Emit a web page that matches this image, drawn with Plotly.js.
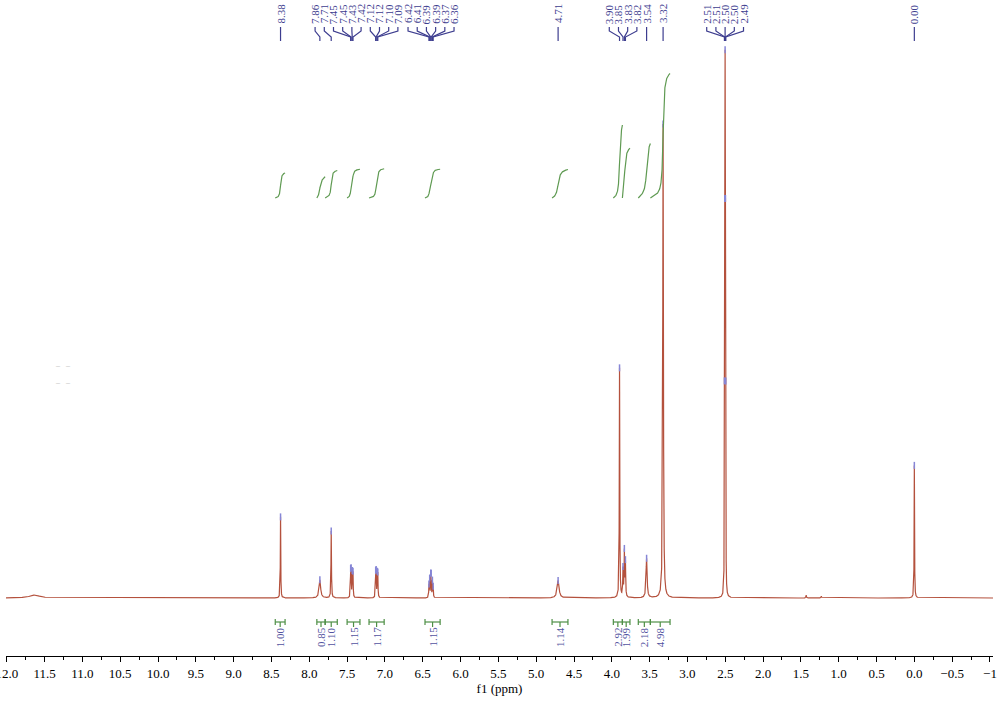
<!DOCTYPE html>
<html><head><meta charset="utf-8">
<script src="https://cdn.plot.ly/plotly-3.0.1.min.js"></script>
<style>html,body{margin:0;padding:0;background:#fff}#chart{width:1002px;height:701px}</style>
</head><body><div id="chart"></div>
<script>
// ---- spectrum peaks (ppm, relative height %, half-width ppm) ----
const peakPpm    = [11.63, 8.380, 7.860, 7.710, 7.453, 7.447, 7.432, 7.422, 7.122, 7.116, 7.102, 7.094,
                    6.418, 6.408, 6.394, 6.388, 6.372, 6.362, 4.710, 3.898, 3.852, 3.834, 3.820, 3.540, 3.322,
                    2.511, 2.5065, 2.502, 2.4975, 2.493, 1.430, 1.230, 0.000];
const peakHeight = [0.55, 14.8, 3.3, 12.2, 4.4, 4.4, 4.4, 4.4, 4.1, 4.1, 4.1, 4.1,
                    2.2, 3.2, 3.6, 3.6, 2.9, 1.8, 3.2, 41.9, 5.0, 8.2, 6.2, 7.2, 86.5,
                    27.6, 55.1, 82.7, 55.1, 27.6, 0.5, 0.35, 24.2];
const peakWidth  = [0.08, 0.003, 0.012, 0.0035, 0.003, 0.003, 0.003, 0.003, 0.003, 0.003, 0.003, 0.003,
                    0.003, 0.003, 0.003, 0.003, 0.003, 0.003, 0.015, 0.0035, 0.004, 0.004, 0.004, 0.008, 0.005,
                    0.0018, 0.0018, 0.0018, 0.0018, 0.0018, 0.004, 0.004, 0.003];
// ---- peak picking ----
const pickPpm = [8.380, 7.860, 7.710, 7.453, 7.447, 7.432, 7.422, 7.122, 7.116, 7.102, 7.094,
                 6.418, 6.408, 6.394, 6.388, 6.372, 6.362, 4.710, 3.898, 3.852, 3.834, 3.820, 3.540, 3.322,
                 2.511, 2.5065, 2.502, 2.4975, 2.493, 0.000];
// ---- integrations ----
const intStart = [8.45, 7.90, 7.79, 7.50, 7.21, 6.47, 4.79, 3.98, 3.86, 3.65, 3.49];
const intEnd   = [8.32, 7.79, 7.63, 7.33, 7.01, 6.27, 4.58, 3.86, 3.76, 3.49, 3.23];
const intValue = [1.00, 0.85, 1.10, 1.15, 1.17, 1.15, 1.14, 2.92, 1.99, 2.18, 4.98];
// ---- axis ticks ----
const tickVals = [12.0, 11.5, 11.0, 10.5, 10.0, 9.5, 9.0, 8.5, 8.0, 7.5, 7.0, 6.5, 6.0, 5.5, 5.0,
                  4.5, 4.0, 3.5, 3.0, 2.5, 2.0, 1.5, 1.0, 0.5, 0.0, -0.5, -1.0];
const tickText = ["12.0","11.5","11.0","10.5","10.0","9.5","9.0","8.5","8.0","7.5","7.0","6.5","6.0","5.5","5.0",
                  "4.5","4.0","3.5","3.0","2.5","2.0","1.5","1.0","0.5","0.0","\u22120.5","\u22121"];

const X0 = 12.01, X1 = -1.04;
const W = 1002, H = 701, ML = 6, MR = 9, MT = 0, MB = 45;
const plotW = W - ML - MR, plotH = H - MT - MB;
const pxPerPpm = plotW / (X0 - X1);
const py = px => 1 - (px - MT) / plotH;   // pixel row -> paper y

function spec(x, extra) {
  let s = 0;
  for (let i = 0; i < peakPpm.length; i++) {
    const w = peakWidth[i] + (extra || 0);
    const d = (x - peakPpm[i]) / w;
    s += peakHeight[i] / (1 + d * d);
  }
  return s;
}

// sampling grid
let xs = [];
for (let x = X1; x <= X0; x += 0.002) xs.push(+x.toFixed(4));
peakPpm.forEach((p, i) => {
  const w = peakWidth[i];
  const span = Math.max(0.012, w * 15), step = Math.max(0.0002, w / 10);
  for (let d = -span; d <= span; d += step) xs.push(+(p + d).toFixed(5));
  xs.push(p);
});
xs.sort((a, b) => a - b);
xs = xs.filter((v, i) => i === 0 || v !== xs[i - 1]);
const ys = xs.map(x => spec(x));

// integral curves
const ix = [], iy = [];
for (let r = 0; r < intValue.length; r++) {
  const seg = xs.filter(x => x <= intStart[r] && x >= intEnd[r]).sort((a, b) => b - a);
  const v = seg.map(x => spec(x, 0.007));
  const c = [0];
  for (let k = 1; k < seg.length; k++) c.push(c[k - 1] + (v[k] + v[k - 1]) / 2 * (seg[k - 1] - seg[k]));
  const tot = c[c.length - 1];
  seg.forEach((x, k) => { ix.push(x); iy.push(c[k] / tot * intValue[r]); });
  ix.push(null); iy.push(null);
}

const specColor = '#b4513d', intColor = '#5f9a52', labColor = '#3d3d8f';

const traces = [
  { x: xs, y: ys, type: 'scatter', mode: 'lines', line: { color: specColor, width: 1.2 }, hoverinfo: 'skip' },
  { x: pickPpm, y: pickPpm.map(p => spec(p)), type: 'scatter', mode: 'markers',
    marker: { symbol: 'line-ns', size: 5, line: { color: '#8686d6', width: 1.5 } }, hoverinfo: 'skip' },
  { x: ix, y: iy, yaxis: 'y2', type: 'scatter', mode: 'lines', line: { color: intColor, width: 1.2 },
    connectgaps: false, hoverinfo: 'skip' }
];

// label positions for peak picks (spread to avoid overlap)
const sp = 9.2 / pxPerPpm;
const order = pickPpm.map((p, i) => i).sort((a, b) => pickPpm[b] - pickPpm[a]);
let clusters = [];
order.forEach(i => {
  clusters.push({ idx: [i], sum: -pickPpm[i], start: -pickPpm[i] });
  while (clusters.length > 1) {
    const b = clusters[clusters.length - 1], a = clusters[clusters.length - 2];
    if (a.start + a.idx.length * sp > b.start) {
      const m = { idx: a.idx.concat(b.idx), sum: a.sum + b.sum };
      m.start = m.sum / m.idx.length - (m.idx.length - 1) * sp / 2;
      clusters.splice(clusters.length - 2, 2, m);
    } else break;
  }
});
const labPos = [];
clusters.forEach(c => c.idx.forEach((i, k) => { labPos[i] = -(c.start + k * sp); }));

const annotations = [], shapes = [];
pickPpm.forEach((p, i) => {
  annotations.push({ x: labPos[i], y: py(14), xref: 'x', yref: 'paper', text: p.toFixed(2), showarrow: false,
    textangle: -90, xanchor: 'center', yanchor: 'middle',
    font: { family: 'Liberation Serif', size: 11, color: labColor } });
  shapes.push({ type: 'path', xref: 'x', yref: 'paper',
    path: `M ${labPos[i]},${py(27)} L ${labPos[i]},${py(31)} L ${p},${py(37)} L ${p},${py(41)}`,
    line: { color: labColor, width: 1.2 } });
});
intValue.forEach((v, r) => {
  const a = intStart[r], b = intEnd[r], m = (a + b) / 2;
  shapes.push({ type: 'line', xref: 'x', yref: 'paper', x0: a, x1: b, y0: py(622), y1: py(622), line: { color: '#4e8f45', width: 1.2 } });
  shapes.push({ type: 'line', xref: 'x', yref: 'paper', x0: a, x1: a, y0: py(619), y1: py(625), line: { color: '#4e8f45', width: 1.2 } });
  shapes.push({ type: 'line', xref: 'x', yref: 'paper', x0: b, x1: b, y0: py(619), y1: py(625), line: { color: '#4e8f45', width: 1.2 } });
  shapes.push({ type: 'line', xref: 'x', yref: 'paper', x0: m, x1: m, y0: py(622), y1: py(627), line: { color: '#4e8f45', width: 1.2 } });
  annotations.push({ x: m, y: py(637), xref: 'x', yref: 'paper', text: v.toFixed(2), showarrow: false,
    textangle: -90, xanchor: 'center', yanchor: 'middle',
    font: { family: 'Liberation Serif', size: 11, color: '#5252a0' } });
});
// small grey marks at left
[365, 382].forEach(yy => annotations.push({ x: (53 - ML) / plotW, y: py(yy), xref: 'paper', yref: 'paper',
  text: '\u2013&nbsp;&nbsp;&nbsp;\u2013', showarrow: false, font: { family: 'Liberation Serif', size: 8, color: '#b8b8b8' } }));

const baseY = 598; // baseline pixel row
const yPerPx = 100 / 548;
const layout = {
  width: W, height: H, margin: { l: ML, r: MR, t: MT, b: MB },
  paper_bgcolor: '#fff', plot_bgcolor: '#fff', showlegend: false,
  xaxis: { range: [X0, X1], tickmode: 'array', tickvals: tickVals, ticktext: tickText,
    ticks: 'outside', ticklen: 5, tickcolor: '#000', tickwidth: 1, showline: true, linecolor: '#000', linewidth: 1,
    showgrid: false, zeroline: false, ticklabeloverflow: 'allow',
    minor: { tickmode: 'linear', tick0: 0, dtick: 0.25, ticks: 'outside', ticklen: 3, tickcolor: '#000', showgrid: false },
    tickfont: { family: 'Liberation Serif', size: 13, color: '#000' },
    title: { text: 'f1 (ppm)', font: { family: 'Liberation Serif', size: 13, color: '#000' }, standoff: 0 } },
  yaxis: { visible: false, range: [-(plotH + MT - baseY) * yPerPx, (baseY - MT) * yPerPx], showgrid: false, zeroline: false },
  yaxis2: { visible: false, overlaying: 'y', range: [-(plotH + MT - 198) / 25, (198 - MT) / 25], showgrid: false, zeroline: false },
  annotations: annotations, shapes: shapes
};
Plotly.newPlot('chart', traces, layout, { displayModeBar: false, staticPlot: true });
</script>
</body></html>
